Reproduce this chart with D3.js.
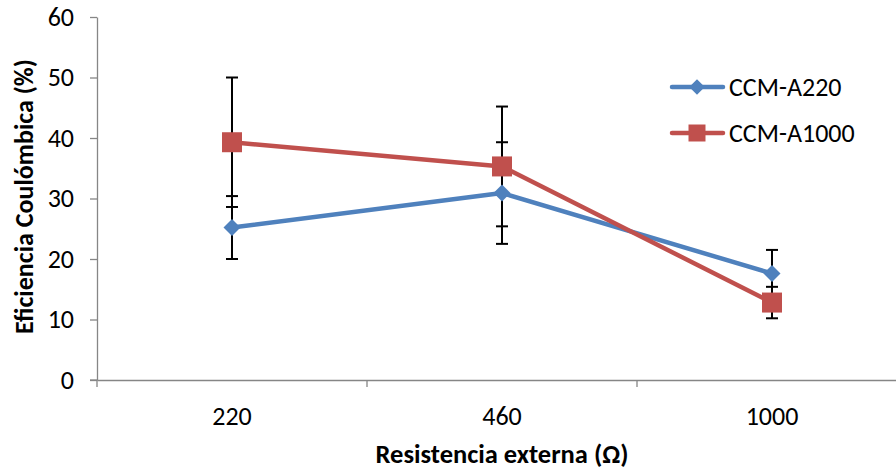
<!DOCTYPE html>
<html>
<head>
<meta charset="utf-8">
<script src="https://cdn.jsdelivr.net/npm/d3@7"></script>
<style>
  body { margin: 0; background: #fff; }
  text { font-family: Carlito, "Open Sans", "Liberation Sans", sans-serif; }
</style>
</head>
<body>
<svg id="chart"></svg>
<script>
var width = 896;
var height = 470;

// data
var categories = ["220", "460", "1000"];
var seriesNames = ["CCM-A220", "CCM-A1000"];
var valuesA220 = [25.2, 30.9, 17.6];
var errorsA220 = [5.2, 8.4, 3.9];
var valuesA1000 = [39.3, 35.3, 12.8];
var errorsA1000 = [10.7, 9.9, 2.6];
var yTicks = [0, 10, 20, 30, 40, 50, 60];

var colors = ["#4F81BD", "#C0504D"];
var series = [
  { name: seriesNames[0], values: valuesA220, errors: errorsA220, color: colors[0], diamond: true },
  { name: seriesNames[1], values: valuesA1000, errors: errorsA1000, color: colors[1], diamond: false }
];

var svg = d3.select("#chart")
  .attr("width", width)
  .attr("height", height);

var x = d3.scaleBand()
  .domain(categories)
  .range([97, 97 + 270 * 3]);

var y = d3.scaleLinear()
  .domain([0, 60])
  .range([380, 17]);

var cx = function(c) { return x(c) + x.bandwidth() / 2; };
var axisColor = "#868686";

// y axis
var yAxis = svg.append("g")
  .attr("transform", "translate(97,0)")
  .call(d3.axisLeft(y).tickValues(yTicks).tickSize(7).tickSizeOuter(0));
yAxis.select(".domain").attr("stroke", axisColor).attr("stroke-width", 1.3);
yAxis.selectAll(".tick line").attr("stroke", axisColor).attr("stroke-width", 1.3);
yAxis.selectAll(".tick text")
  .attr("x", -23)
  .attr("fill", "#000")
  .style("font-size", "26px");

// x axis
var xAxis = svg.append("g")
  .attr("transform", "translate(0,380)")
  .call(d3.axisBottom(x).tickSize(0).tickSizeOuter(0));
xAxis.select(".domain").attr("stroke", axisColor).attr("stroke-width", 1.3);
xAxis.selectAll(".tick text")
  .attr("y", 27)
  .attr("dy", "0.71em")
  .attr("fill", "#000")
  .style("font-size", "26px");
xAxis.append("line")
  .attr("x1", 90).attr("x2", 97)
  .attr("stroke", axisColor).attr("stroke-width", 1.3);

var boundaries = categories.map(function(c) { return x(c); }).concat([x.range()[1]]);
xAxis.selectAll(".bound")
  .data(boundaries)
  .enter().append("line")
    .attr("class", "bound")
    .attr("x1", function(d) { return d; })
    .attr("x2", function(d) { return d; })
    .attr("y1", 0).attr("y2", 7)
    .attr("stroke", axisColor).attr("stroke-width", 1.3);

// axis titles
svg.append("text")
  .attr("transform", "translate(33," + ((y(0) + y(60)) / 2 - 2) + ") rotate(-90)")
  .attr("text-anchor", "middle")
  .style("font-size", "26px")
  .style("font-weight", "bold")
  .text("Eficiencia Coulómbica (%)");

svg.append("text")
  .attr("x", cx("460"))
  .attr("y", 463)
  .attr("text-anchor", "middle")
  .style("font-size", "26.5px")
  .style("font-weight", "bold")
  .text("Resistencia externa (Ω)");

// error bars
series.forEach(function(s) {
  var g = svg.append("g").attr("stroke", "#000").attr("stroke-width", 2);
  categories.forEach(function(c, i) {
    var lo = y(s.values[i] - s.errors[i]);
    var hi = y(s.values[i] + s.errors[i]);
    var px = cx(c);
    g.append("line").attr("x1", px).attr("x2", px).attr("y1", lo).attr("y2", hi);
    g.append("line").attr("x1", px - 6).attr("x2", px + 6).attr("y1", lo).attr("y2", lo);
    g.append("line").attr("x1", px - 6).attr("x2", px + 6).attr("y1", hi).attr("y2", hi);
  });
});

// markers: diamond = rotated square
var marker = function(sel, s, big) {
  var side = s.diamond ? (big ? 12 : 11) : (big ? 20 : 17);
  sel.attr("d", d3.symbol().type(d3.symbolSquare).size(side * side))
    .attr("fill", s.color);
};

var line = d3.line()
  .x(function(d) { return cx(d.c); })
  .y(function(d) { return y(d.v); });

series.forEach(function(s) {
  var pts = categories.map(function(c, i) { return { c: c, v: s.values[i] }; });
  svg.append("path")
    .datum(pts)
    .attr("d", line)
    .attr("fill", "none")
    .attr("stroke", s.color)
    .attr("stroke-width", 4.5)
    .attr("stroke-linejoin", "round");
  svg.selectAll(null)
    .data(pts)
    .enter().append("path")
      .attr("transform", function(d) {
        return "translate(" + cx(d.c) + "," + y(d.v) + ")" + (s.diamond ? " rotate(45)" : "");
      })
      .call(marker, s, true);
});

// legend
var legend = svg.append("g");
series.forEach(function(s, i) {
  var ly = 87 + i * 46;
  var row = legend.append("g").attr("transform", "translate(0," + ly + ")");
  row.append("line")
    .attr("x1", 672).attr("x2", 723)
    .attr("stroke", s.color).attr("stroke-width", 4.5)
    .attr("stroke-linecap", "round");
  row.append("path")
    .attr("transform", "translate(697,0)" + (s.diamond ? " rotate(45)" : ""))
    .call(marker, s, false);
  row.append("text")
    .attr("x", 729)
    .attr("dy", "0.35em")
    .style("font-size", "26px")
    .text(s.name);
});
</script>
</body>
</html>
